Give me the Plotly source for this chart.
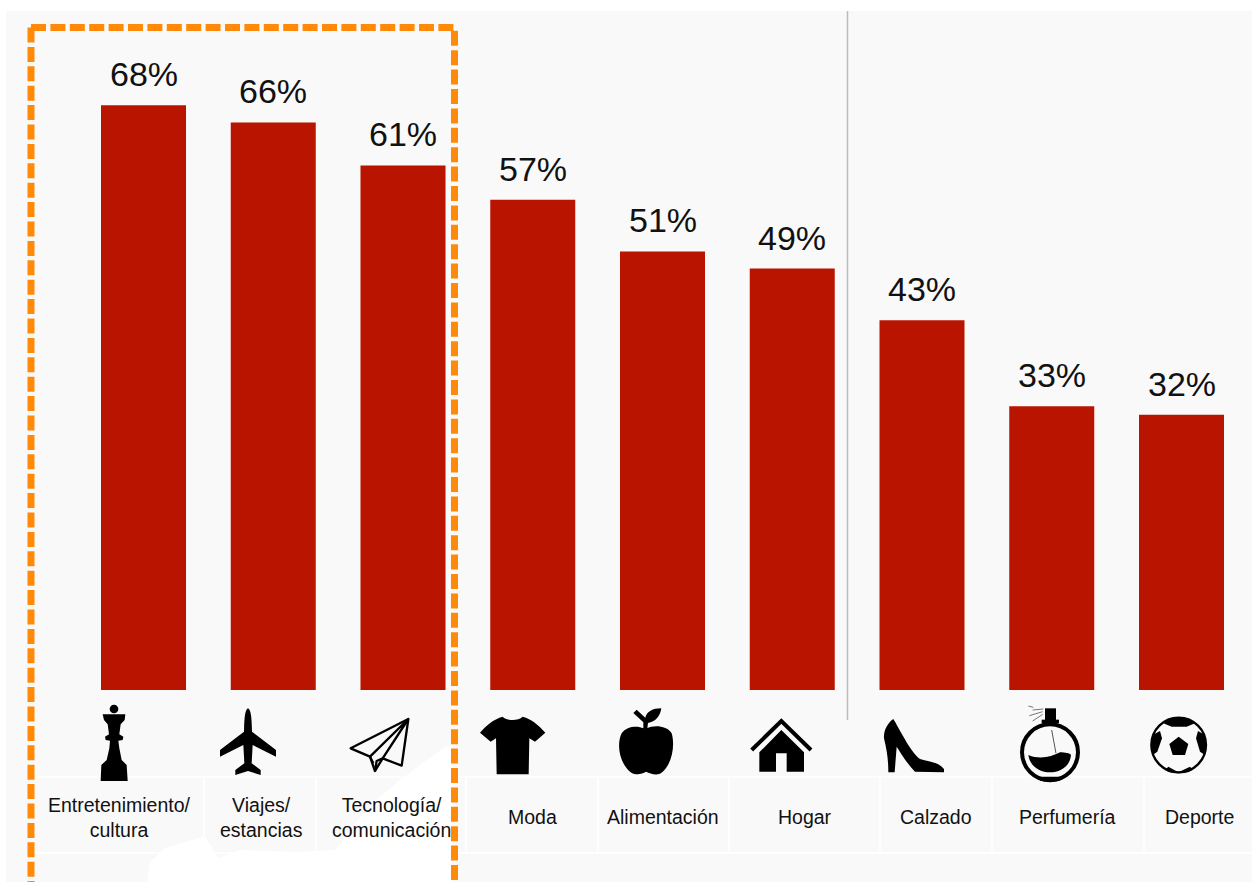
import base64
import plotly.graph_objects as go

# Chart data
categories = ["Entretenimiento/<br>cultura", "Viajes/<br>estancias", "Tecnología/<br>comunicación",
              "Moda", "Alimentación", "Hogar", "Calzado", "Perfumería", "Deporte"]
shares = [68, 66, 61, 57, 51, 49, 43, 33, 32]

# Horizontal offset of each category caption from the centre of its bar, in pixels
caption_shift = [-24.5, -12, -12, 0, 0, 13, 14, 16, 17.5]

WIDTH, HEIGHT = 1252, 882
PANEL = "#f9f9f9"
BAR = "#b81400"
ORANGE = "#ff8a0a"
INK = "#111111"
FONT = "Liberation Sans, Arial, sans-serif"
BAR_STEP = 129.75


def px(x):
    return x / WIDTH


def py(y):
    return 1 - y / HEIGHT


def path(points):
    cmds = [f"{'M' if i == 0 else 'L'}{px(x):.5f},{py(y):.5f}" for i, (x, y) in enumerate(points)]
    return " ".join(cmds)


# Pictograms, drawn at three times their on-page size
ICONS_LEFT = """
<circle cx="72" cy="42" r="13"/>
<path d="M38 58 L106 58 L104 75 L92 88 L88 118 L100 125 L98 135 L85 137 L88 160 L95 195 L110 210 L113 258
 L32 258 L34 210 L50 195 L58 160 L60 137 L47 135 L45 125 L57 118 L53 88 L42 75 Z"/>
<path d="M474 40 C482 45 485 60 486 110 L558 165 L558 185 L488 150 L485 205 L512 225 L512 240 L474 228
 L436 240 L436 225 L463 205 L460 150 L390 185 L390 165 L462 110 C463 60 466 45 474 40 Z"/>
<g fill="none" stroke="#000" stroke-width="7" stroke-linejoin="round">
<path d="M955 72 L782 160 L840 185 L855 228 L878 190 L935 212 Z"/>
<path d="M955 72 L840 185 L850 205 M955 72 L878 190 L860 198 L855 228"/>
</g>
"""

ICONS_MIDDLE = """
<path d="M98 65 C110 78 145 78 158 65 C185 72 205 90 226 113 L195 140 L178 130 L176 238 L80 238 L78 130
 L62 140 L30 113 C50 90 72 72 98 65 Z"/>
<path d="M530 100 C550 90 590 90 605 115 C618 160 600 220 570 236 C555 242 540 235 528 230 C515 238 495 242
 480 230 C450 205 438 150 455 115 C470 92 505 92 520 100 L520 82 L490 54 L500 44 L526 68
 C530 50 548 40 574 40 C570 66 556 80 534 84 L532 100 Z"/>
<path d="M845 165 L934 78 L1023 165" fill="none" stroke="#000" stroke-width="12"/>
<path d="M868 230 L868 172 L934 105 L1002 172 L1002 230 L950 230 L950 175 L918 175 L918 230 Z"/>
"""

ICONS_RIGHT = """
<path d="M70 72 C85 95 120 170 150 192 C175 200 205 200 222 222 L222 232 L135 230 C110 205 90 170 80 155
 L74 232 L55 232 C55 190 50 165 42 130 C40 105 55 82 70 72 Z"/>
<rect x="525" y="40" width="33" height="36"/>
<rect x="515" y="74" width="52" height="11"/>
<circle cx="540" cy="172" r="84" fill="none" stroke="#000" stroke-width="12"/>
<path d="M500 245 L580 245 L568 258 L512 258 Z"/>
<path d="M475 180 C510 195 545 185 570 172 C585 172 600 175 603 180 C600 215 570 232 540 232 C510 232 480 215 475 180 Z"/>
<path d="M545 105 L558 175" stroke="#555" stroke-width="3" fill="none"/>
<path d="M475 33 L490 37 M488 45 L520 42 M478 62 L518 50 M488 78 L518 58" stroke="#777" stroke-width="3" fill="none"/>
<circle cx="926" cy="150" r="82" fill="none" stroke="#000" stroke-width="7"/>
<path d="M926 125 L955 147 L945 180 L908 180 L898 147 Z"/>
<path d="M880 85 C910 62 945 62 975 85 L950 95 L905 95 Z"/>
<path d="M852 118 L870 108 L876 130 L862 170 L848 180 C842 160 844 138 852 118 Z"/>
<path d="M1001 118 L984 108 L978 130 L990 170 L1005 180 C1010 160 1008 138 1001 118 Z"/>
<path d="M895 215 L925 232 L960 215 L968 225 C940 238 910 238 885 225 Z"/>
"""


def icon_image(markup, x0, y0, w, h):
    svg = (f'<svg xmlns="http://www.w3.org/2000/svg" width="{w * 3}" height="{h * 3}" '
           f'viewBox="0 0 {w * 3} {h * 3}">{markup}</svg>')
    uri = "data:image/svg+xml;base64," + base64.b64encode(svg.encode()).decode()
    return dict(source=uri, xref="paper", yref="paper", x=px(x0), y=py(y0),
                sizex=w / WIDTH, sizey=h / HEIGHT, xanchor="left", yanchor="top",
                sizing="stretch", layer="above")


shapes = [
    # Grey panel behind the chart
    dict(type="rect", xref="paper", yref="paper", x0=px(6), x1=1, y0=0, y1=py(11),
         fillcolor=PANEL, line_width=0, layer="below"),
    # Washed-out patch behind the first columns
    dict(type="path", xref="paper", yref="paper", layer="below", fillcolor="#ffffff", line_width=0,
         path=path([(147, 882), (150, 862), (165, 848), (205, 836), (218, 858), (240, 850), (300, 852),
                    (335, 850), (370, 805), (400, 780), (445, 747), (452, 745), (452, 882)]) + " Z"),
    # Divider between the two groups of columns
    dict(type="line", xref="paper", yref="paper", x0=px(847.5), x1=px(847.5), y0=py(11), y1=py(720),
         line=dict(color="#bbbbbb", width=1.5), layer="below"),
]

# Faint table rules under the pictograms
for y in (777, 853):
    shapes.append(dict(type="line", xref="paper", yref="paper", x0=px(36), x1=1, y0=py(y), y1=py(y),
                       line=dict(color="#ffffff", width=1.5), layer="below"))
for x in (204, 316, 466, 598, 729, 880, 992, 1144):
    shapes.append(dict(type="line", xref="paper", yref="paper", x0=px(x), x1=px(x), y0=py(777), y1=py(853),
                       line=dict(color="#ffffff", width=1.5), layer="below"))

# Dashed highlight around the top three columns, open at the bottom
for run in ([(31, 27.5), (31, 882)], [(31, 27.5), (454.5, 27.5), (454.5, 882)]):
    shapes.append(dict(type="path", xref="paper", yref="paper", path=path(run), layer="above",
                       line=dict(color=ORANGE, width=7, dash="15px,4.4px")))

annotations = []
for cat, value in zip(categories, shares):
    annotations.append(dict(x=cat, y=value, xref="x", yref="y", text=f"{value}%", showarrow=False,
                            yanchor="bottom", yshift=10, font=dict(family=FONT, size=34, color=INK)))
for cat, shift in zip(categories, caption_shift):
    annotations.append(dict(x=cat, y=py(817), xref="x", yref="paper", text=cat, showarrow=False,
                            xshift=shift, yanchor="middle", align="center",
                            font=dict(family=FONT, size=19.5, color=INK)))

fig = go.Figure(go.Bar(x=categories, y=shares, width=85 / BAR_STEP, marker=dict(color=BAR, line_width=0),
                       hoverinfo="skip"))

# Axis ranges place the first bar centre at 143.5 px and the baseline at 690 px
fig.update_layout(
    width=WIDTH, height=HEIGHT, autosize=False,
    margin=dict(l=0, r=0, t=0, b=0),
    paper_bgcolor="#ffffff", plot_bgcolor="rgba(0,0,0,0)",
    showlegend=False,
    xaxis=dict(type="category", visible=False, range=[-143.5 / BAR_STEP, (WIDTH - 143.5) / BAR_STEP], fixedrange=True),
    yaxis=dict(visible=False, range=[-(HEIGHT - 690) / 8.6, 690 / 8.6], fixedrange=True),
    shapes=shapes,
    annotations=annotations,
    images=[
        icon_image(ICONS_LEFT, 90, 695, 330, 95),
        icon_image(ICONS_MIDDLE, 470, 695, 360, 95),
        icon_image(ICONS_RIGHT, 870, 695, 350, 95),
    ],
)

fig.write_html("out.html", config=dict(displayModeBar=False))
